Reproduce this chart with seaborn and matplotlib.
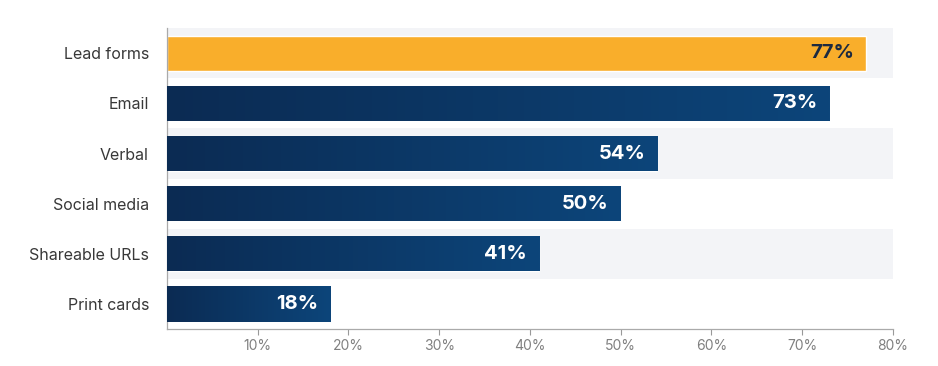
import numpy as np
import pandas as pd
import matplotlib
matplotlib.use('Agg')
import matplotlib.pyplot as plt
import seaborn as sns
from matplotlib.colors import LinearSegmentedColormap

channels = ['Lead forms', 'Email', 'Verbal', 'Social media', 'Shareable URLs', 'Print cards']
shares = [77, 73, 54, 50, 41, 18]
tick_values = [10, 20, 30, 40, 50, 60, 70, 80]

sns.set_theme(style='white')
plt.rcParams['font.family'] = ['Inter', 'DejaVu Sans']

df = pd.DataFrame({'channel': channels, 'share': shares})

fig = plt.figure(figsize=(9.38, 3.66), dpi=100)
ax = fig.add_axes([0.178, 0.101, 0.774, 0.822])

palette = ['#f9ae2b'] + ['#0b3563'] * (len(channels) - 1)
sns.barplot(data=df, y='channel', x='share', hue='channel', palette=palette,
            legend=False, orient='h', width=0.7, ax=ax, zorder=2, saturation=1)

bars = [b for c in ax.containers for b in c]
bars.sort(key=lambda b: b.get_y())

# alternating light row bands
for i in range(0, len(channels), 2):
    ax.axhspan(i - 0.5, i + 0.5, color='#f3f4f7', zorder=0, lw=0)

# gradient fill for the navy bars
navy = LinearSegmentedColormap.from_list('navy', ['#0b2b53', '#0d457a'])
grad = np.linspace(0, 1, 256).reshape(1, -1)
for patch in bars[1:]:
    x0, y0 = patch.get_x(), patch.get_y()
    w, h = patch.get_width(), patch.get_height()
    im = ax.imshow(grad, cmap=navy, aspect='auto', extent=[x0, x0 + w, y0 + h, y0],
                   zorder=3)
    im.set_clip_path(patch)

for i, v in enumerate(shares):
    color = '#1c2a40' if i == 0 else 'white'
    ax.text(v - 1.3, i, f'{v}%', ha='right', va='center', fontsize=14.5,
            fontweight='bold', color=color, zorder=5)

ax.set_xlim(0, 80)
ax.set_ylim(len(channels) - 0.5, -0.5)
ax.set_xticks(tick_values)
ax.set_xticklabels([f'{t}%' for t in tick_values])
ax.set_xlabel('')
ax.set_ylabel('')
ax.tick_params(axis='x', colors='#999999', labelsize=10, length=4, width=0.8,
               bottom=True, labelcolor='#808080')
ax.tick_params(axis='y', length=0, labelsize=11.5, labelcolor='#383838', pad=13)
for s in ['top', 'right']:
    ax.spines[s].set_visible(False)
for s in ['left', 'bottom']:
    ax.spines[s].set_color('#aaaaaa')
    ax.spines[s].set_linewidth(0.9)

fig.savefig('out.png', dpi=100, facecolor='white')
